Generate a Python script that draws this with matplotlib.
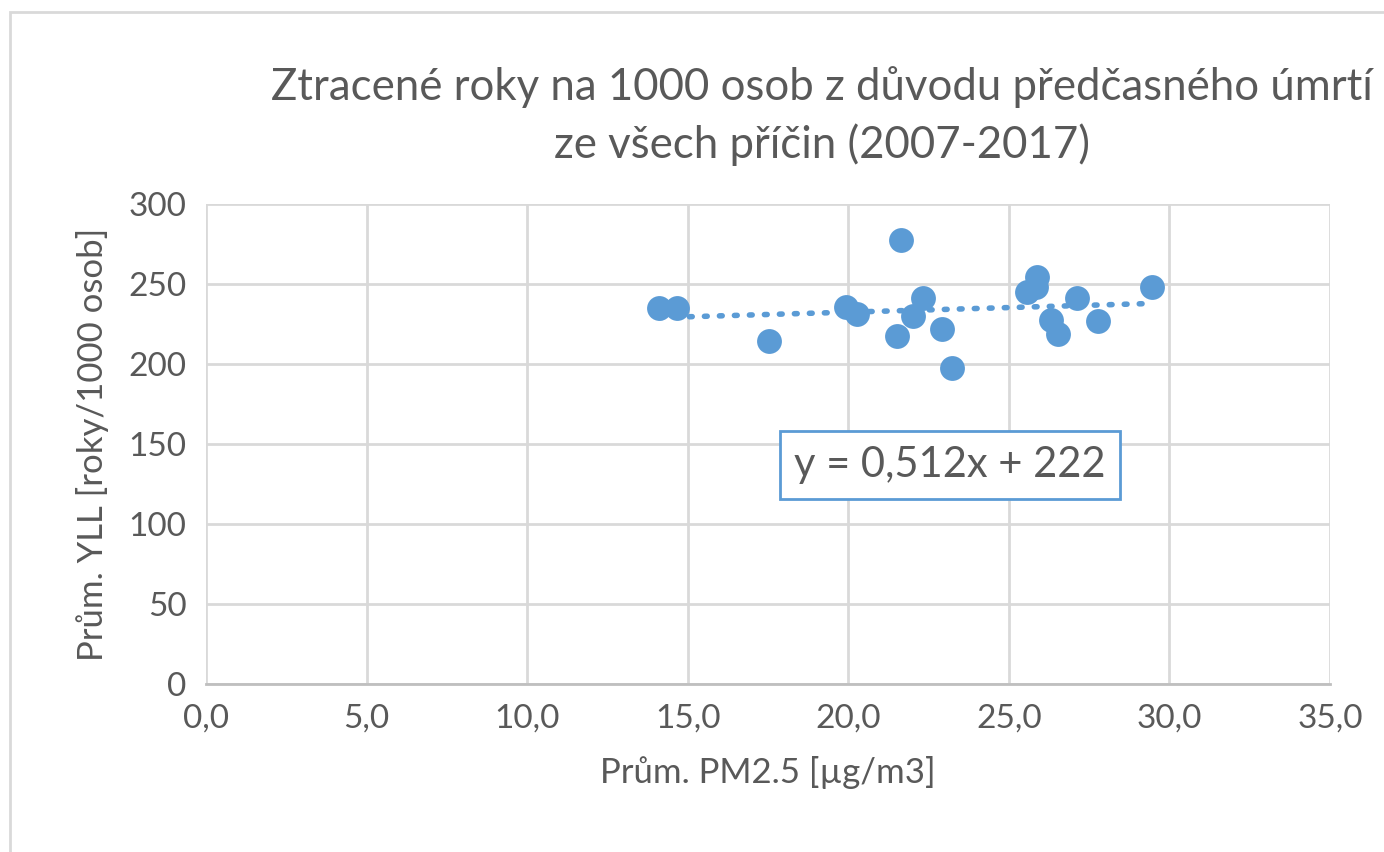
import numpy as np
import matplotlib.pyplot as plt
from matplotlib.patches import Rectangle

# data
pm25 = [14.12, 14.67, 17.52, 19.92, 20.27, 21.65, 22.33, 22.00, 21.52, 22.91,
        23.22, 25.89, 25.86, 25.55, 26.30, 26.54, 27.11, 27.77, 29.47]
yll = [235.2, 235.2, 214.4, 235.8, 231.3, 277.3, 241.4, 229.7, 217.2, 221.7,
       197.3, 254.2, 248.3, 244.8, 227.5, 218.8, 241.4, 227.1, 248.3]
xticks = [0, 5, 10, 15, 20, 25, 30, 35]
yticks = [0, 50, 100, 150, 200, 250, 300]
equation = "y = 0,512x + 222"

blue = '#5B9BD5'
text_col = '#595959'
grid_col = '#D9D9D9'

plt.rcParams['font.family'] = ['Lato', 'DejaVu Sans']

fig = plt.figure(figsize=(13.84, 8.52), dpi=100)
ax = fig.add_axes([206 / 1384, 1 - 684 / 852, 1124 / 1384, 480 / 852])

# outer chart border (cropped at right/bottom)
fig.patches.append(Rectangle((10 / 1384, -0.1), 1.2, 1 - 12 / 852 + 0.1,
                             transform=fig.transFigure, fill=False,
                             edgecolor=grid_col, linewidth=2))

ax.scatter(pm25, yll, s=320, color=blue, zorder=3, linewidths=0)

# linear trend line
k, q = np.polyfit(pm25, yll, 1)
xs = np.array([min(pm25), max(pm25)])
ax.plot(xs, k * xs + q, linestyle=(0, (0.5, 2.2)), color=blue, linewidth=4,
        dash_capstyle='round', zorder=2)

ax.set_xlim(0, 35)
ax.set_ylim(0, 300)
ax.set_xticks(xticks)
ax.set_yticks(yticks)
ax.set_xticklabels([f'{v:.1f}'.replace('.', ',') for v in xticks])
ax.set_yticklabels([str(v) for v in yticks])
ax.tick_params(length=0, labelsize=24, colors=text_col, pad=14)
ax.grid(True, color=grid_col, linewidth=2)
ax.set_axisbelow(True)
for s in ['top', 'right', 'left']:
    ax.spines[s].set_visible(False)
ax.spines['bottom'].set_color('#BFBFBF')
ax.spines['bottom'].set_linewidth(2)

ax.set_xlabel('Prům. PM2.5 [µg/m3]', fontsize=25, color=text_col, labelpad=16)
ax.set_ylabel('Prům. YLL [roky/1000 osob]', fontsize=25, color=text_col, labelpad=14)

fig.text(822 / 1384, 1 - 116 / 852,
         'Ztracené roky na 1000 osob z důvodu předčasného úmrtí\nze všech příčin (2007-2017)',
         ha='center', va='center', fontsize=31.5, color=text_col, linespacing=1.45)

ax.text(0.5 + (950 - 768) / 1124, 1 - (465 - 204) / 480, equation,
        transform=ax.transAxes, ha='center', va='center', fontsize=30,
        color=text_col, zorder=4,
        bbox=dict(boxstyle='square,pad=0.35', facecolor='white',
                  edgecolor=blue, linewidth=2))

fig.savefig('out.png', dpi=100)
